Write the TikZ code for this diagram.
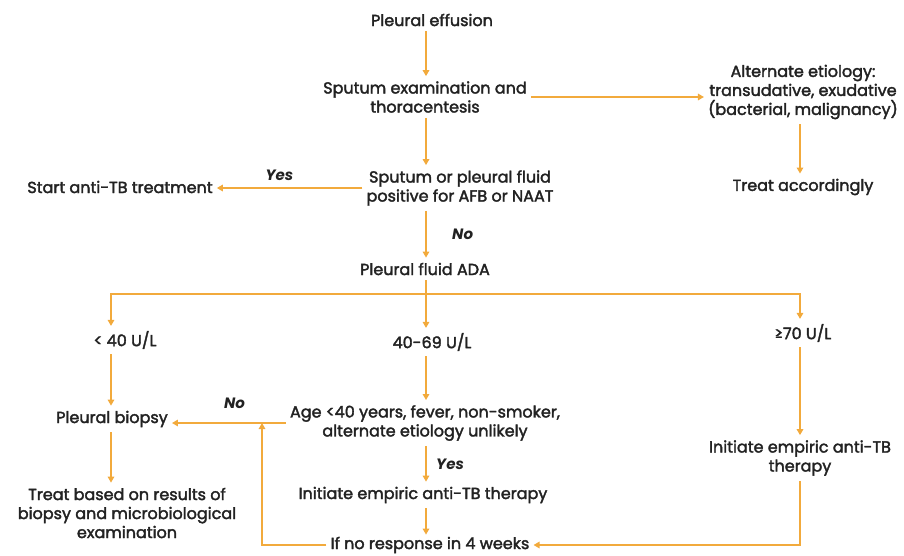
\documentclass[tikz,border=0pt]{standalone}
\usepackage{fontspec}
\setmainfont{Poppins}[UprightFeatures={FakeBold=2.2}]
\usetikzlibrary{arrows.meta}
\definecolor{flowor}{HTML}{F2AA3C}
\definecolor{txtgray}{HTML}{222222}
\tikzset{
  box/.style={align=center, text=txtgray, inner xsep=4pt, inner ysep=5pt,
    font=\fontsize{16}{19}\selectfont},
  flow/.style={draw=flowor, line width=1.8pt,
    -{Triangle[length=6pt,width=6.5pt]}},
  lbl/.style={text=txtgray, font=\fontsize{15}{17}\selectfont\bfseries\itshape}
}
\begin{document}
\begin{tikzpicture}[x=1pt,y=-1pt]
	\useasboundingbox (0,0) rectangle (904,555);
	\clip (0,0) rectangle (904,555);
	% columns
	\coordinate (cl) at (111,0);
	\coordinate (cm) at (426,0);
	\coordinate (cr) at (800,0);
	\coordinate (lp) at (262,0);
	\coordinate (br) at (426,294);
	% nodes
	\node[box] (pe) at (432,20) {Pleural effusion};
	\node[box] (se) at (425,97) {Sputum examination and\\thoracentesis};
	\node[box] (ae) at (803,92) {Alternate etiology:\\transudative, exudative\\(bacterial, malignancy)};
	\node[box] (ta) at (803,187) {Treat accordingly};
	\node[box] (sp) at (460,188) {Sputum or pleural fluid\\positive for AFB or NAAT};
	\node[box] (st) at (120,187) {Start anti-TB treatment};
	\node[box] (ada) at (425,269) {Pleural fluid ADA};
	\node[box] (lo) at (125,340) {< 40 U/L};
	\node[box] (mi) at (432,342) {40-69 U/L};
	\node[box] (hi) at (803,333) {≥70 U/L};
	\node[box] (pb) at (112,419) {Pleural biopsy};
	\node[box] (ag) at (425,423) {Age <40 years, fever, non-smoker,\\alternate etiology unlikely};
	\node[box] (ri) at (800,458) {Initiate empiric anti-TB\\therapy};
	\node[box] (tb) at (127,513) {Treat based on results of\\biopsy and microbiological\\examination};
	\node[box] (im) at (423,495) {Initiate empiric anti-TB therapy};
	\node[box, inner ysep=2pt] (nr) at (430,545) {If no response in 4 weeks};
	% connectors
	\draw[flow] (pe.south -| cm) -- (se.north -| cm);
	\draw[flow] (se.east) -- (ae.west |- se.east);
	\draw[flow] (ae.south -| cr) -- (ta.north -| cr);
	\draw[flow] (se.south -| cm) -- (sp.north -| cm);
	\draw[flow] (sp.west) -- (st.east |- sp.west) node[lbl, pos=0.57, above=3pt] {Yes};
	\draw[flow] (sp.south -| cm) -- (ada.north -| cm) node[lbl, midway, right=22pt] {No};
	\draw[flow] (ada.south -| cm) -- (mi.north -| cm);
	\draw[flow] (br) -| (lo.north -| cl);
	\draw[flow] (br) -| (hi.north -| cr);
	\draw[flow] (lo.south -| cl) -- (pb.north -| cl);
	\draw[flow] (pb.south -| cl) -- (tb.north -| cl);
	\draw[flow] (mi.south -| cm) -- (ag.north -| cm);
	\draw[flow] (ag.west) -- (pb.east |- ag.west) node[lbl, pos=0.45, above=10pt] {No};
	\draw[flow] (ag.south -| cm) -- (im.north -| cm) node[lbl, midway, right=6pt] {Yes};
	\draw[flow] (im.south -| cm) -- (nr.north -| cm);
	\draw[flow] (hi.south -| cr) -- (ri.north -| cr);
	\draw[flow] (ri.south -| cr) |- (nr.east);
	\draw[flow] (nr.west) -| (lp |- ag.west);
\end{tikzpicture}
\end{document}
